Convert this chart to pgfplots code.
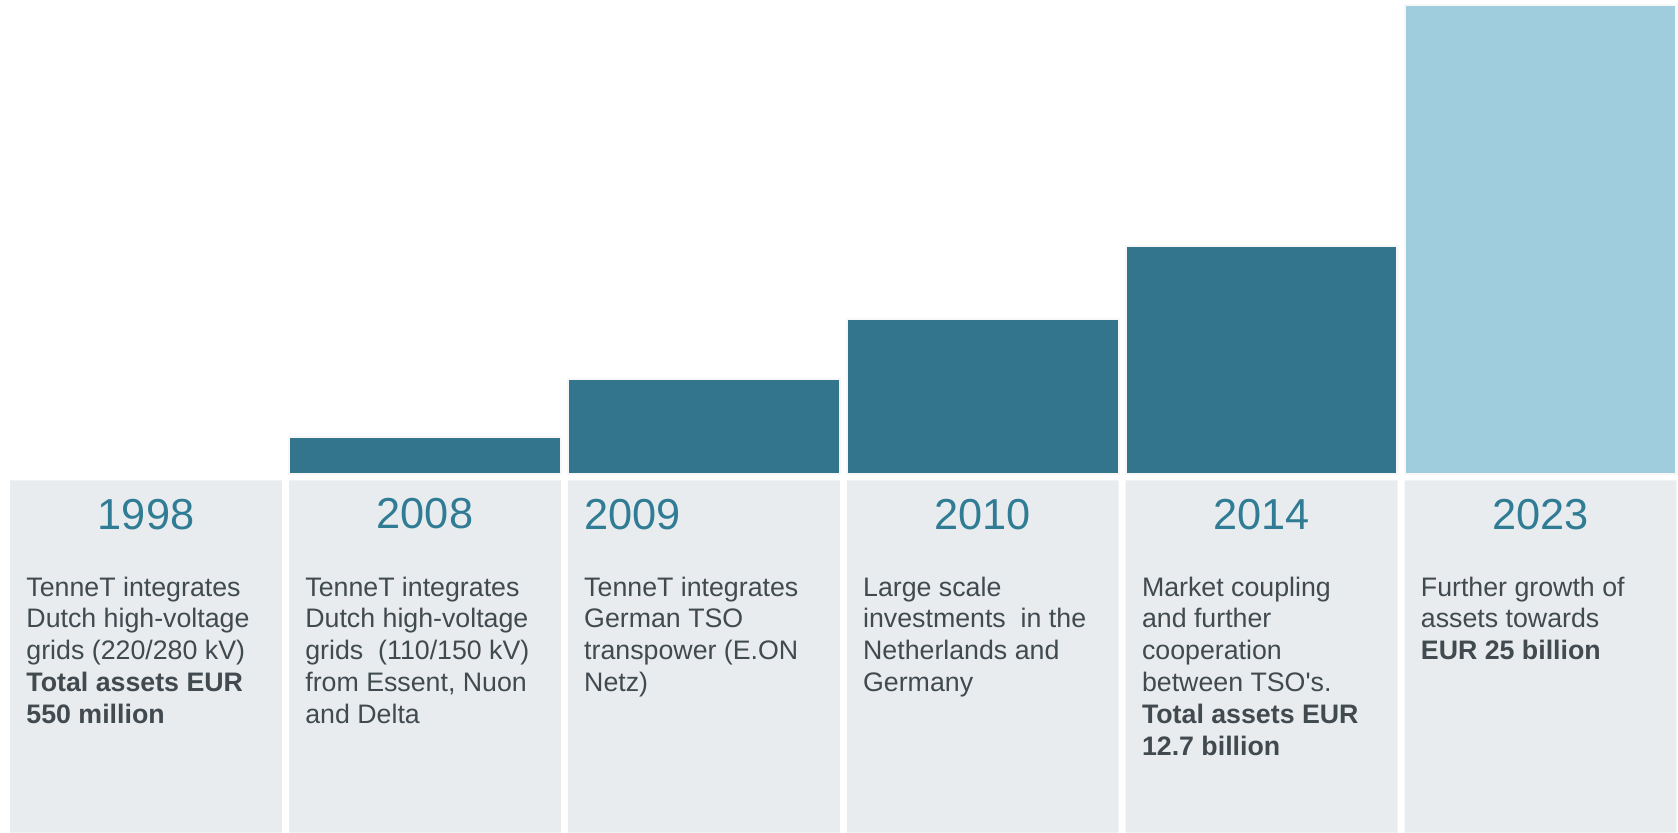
\documentclass[border=0pt]{standalone}
\usepackage{fontspec}
\setmainfont{Liberation Sans}
\usepackage{pgfplots}
\pgfplotsset{compat=1.18}
\definecolor{barteal}{HTML}{32758D}
\definecolor{barlight}{HTML}{A0CDDE}
\definecolor{panelc}{HTML}{E8ECEF}
\definecolor{yearc}{HTML}{2F7C94}
\definecolor{bodyc}{HTML}{414A4F}
\newcommand{\body}[1]{\parbox[t]{245bp}{\raggedright #1}}
\tikzset{
  yearnode/.style={anchor=base, inner sep=0pt, text=yearc, font=\fontsize{40.5bp}{46bp}\selectfont},
  bodynode/.style={anchor=base west, inner sep=0pt, text=bodyc, font=\fontsize{25bp}{29.7bp}\selectfont},
}
\begin{document}
\begin{tikzpicture}
\path[use as bounding box] (0,0) rectangle (1568bp,778bp);
% bars
\begin{axis}[at={(0,335bp)}, anchor=south west, width=1568bp, height=443bp,
  scale only axis, xmin=-0.5238, xmax=5.493, ymin=0, ymax=443,
  hide axis, ybar, bar width=0.9747, clip=false]
\addplot[fill=barteal, draw=black!3, line width=2bp, bar shift=0pt] coordinates {(1,35) (2,89) (3,145) (4,213)};
\addplot[fill=barlight, draw=black!3, line width=2bp, bar shift=0pt] coordinates {(5,438)};
\end{axis}
% panels
\begin{axis}[at={(0,0)}, anchor=south west, width=1568bp, height=329bp,
  scale only axis, xmin=-0.5238, xmax=5.493, ymin=0, ymax=1,
  hide axis, ybar, bar width=0.9747, clip=false]
\addplot[fill=panelc, draw=none, bar shift=0pt] coordinates {(0,1) (1,1) (2,1) (3,1) (4,1) (5,1)};
\node[yearnode] at (axis cs:0,0.86) {1998};
\node[yearnode] at (axis cs:1,0.865) {2008};
\node[yearnode, anchor=base west] at (axis cs:1.5703,0.86) {2009};
\node[yearnode] at (axis cs:3,0.86) {2010};
\node[yearnode] at (axis cs:4,0.86) {2014};
\node[yearnode] at (axis cs:5,0.86) {2023};
\node[bodynode] at (axis cs:-0.4297,0.6717) {\body{TenneT integrates\\Dutch high-voltage\\grids (220/280 kV)\\\textbf{Total assets EUR}\\\textbf{550 million}}};
\node[bodynode] at (axis cs:0.5703,0.6717) {\body{TenneT integrates\\Dutch high-voltage\\grids\ \ (110/150 kV)\\from Essent, Nuon\\and Delta}};
\node[bodynode] at (axis cs:1.5703,0.6717) {\body{TenneT integrates\\German TSO\\transpower (E.ON\\Netz)}};
\node[bodynode] at (axis cs:2.5703,0.6717) {\body{Large scale\\investments\ \ in the\\Netherlands and\\Germany}};
\node[bodynode] at (axis cs:3.5703,0.6717) {\body{Market coupling\\and further\\cooperation\\between TSO\textquotesingle s.\\\textbf{Total assets EUR}\\\textbf{12.7 billion}}};
\node[bodynode] at (axis cs:4.5703,0.6717) {\body{Further growth of\\assets towards\\\textbf{EUR 25 billion}}};
\end{axis}
\end{tikzpicture}
\end{document}
